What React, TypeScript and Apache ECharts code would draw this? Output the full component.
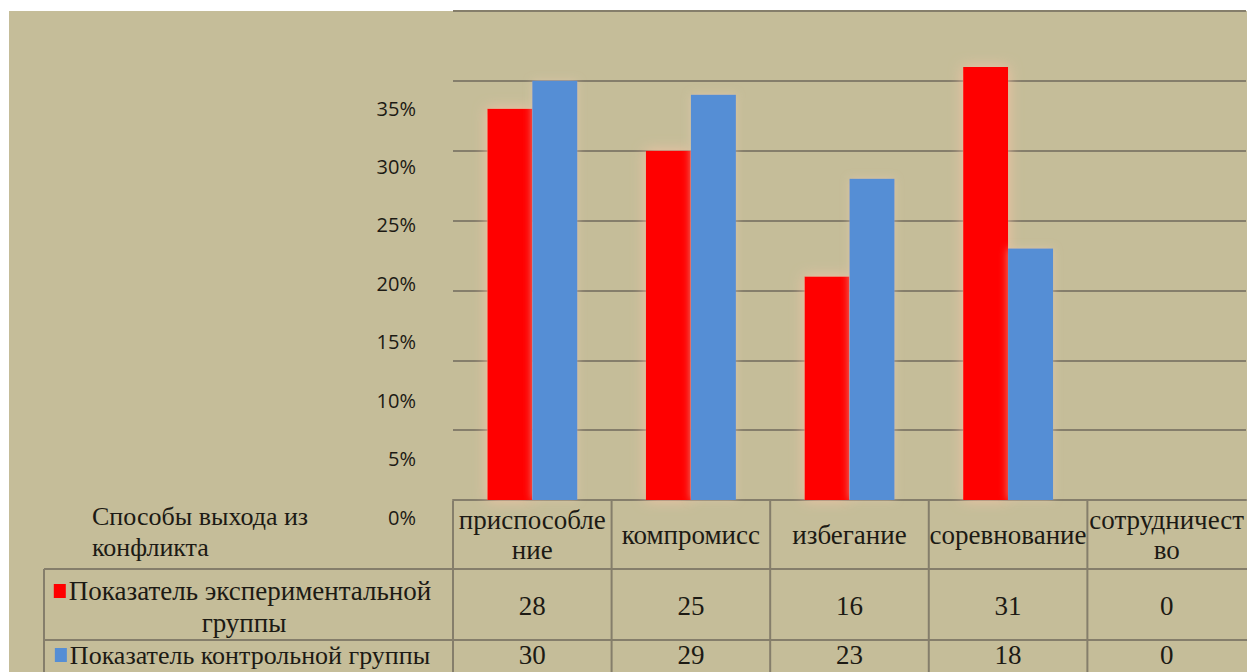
import React, { useEffect, useRef } from "react";
import * as echarts from "echarts";

const categories = ["приспособле\nние", "компромисс", "избегание", "соревнование", "сотрудничест\nво"];
const expValues = [28, 25, 16, 31, 0];
const ctrlValues = [30, 29, 23, 18, 0];
const seriesNames = ["Показатель экспериментальной\nгруппы", "Показатель контрольной группы"];
const seriesColors = ["#ff0000", "#558ed5"];
const headerTitle = "Способы выхода из\nконфликта";
const yMin = 0;
const yMax = 35;
const yStep = 5;

const BG = "#c5bd99";
const LINE = "#857e6b";
const TXT = "#1c1a14";
const SERIF = "'Liberation Serif', 'Times New Roman', serif";
const SANS = "'Open Sans', 'Noto Sans', sans-serif";

export default function App() {
  const ref = useRef<HTMLDivElement>(null);
  useEffect(() => {
    const chart = echarts.init(ref.current!, null, { renderer: "svg" });
    const option: any = {
      animation: false,
      backgroundColor: "#ffffff",
      grid: [
        { left: 453, right: 0, top: 11, bottom: 172, containLabel: false },
        { left: 420, width: 10, top: 108, height: 409, containLabel: false },
      ],
      xAxis: [
        {
          type: "category",
          gridIndex: 0,
          data: categories,
          axisLine: { show: true, lineStyle: { color: LINE, width: 2 } },
          axisTick: { show: false },
          axisLabel: {
            interval: 0,
            margin: 35,
            verticalAlign: "middle",
            lineHeight: 30,
            color: TXT,
            fontFamily: SERIF,
            fontSize: 27,
          },
        },
        { type: "category", gridIndex: 1, data: ["a"], show: false },
      ],
      yAxis: [
        {
          type: "value",
          gridIndex: 0,
          min: yMin,
          max: yMax,
          interval: yStep,
          axisLabel: { show: false },
          axisLine: { show: false },
          axisTick: { show: false },
          splitLine: { show: true, lineStyle: { color: LINE, width: 2 } },
        },
        {
          type: "value",
          gridIndex: 1,
          min: yMin,
          max: yMax,
          interval: yStep,
          axisLine: { show: false },
          axisTick: { show: false },
          splitLine: { show: false },
          axisLabel: {
            formatter: "{value}%",
            margin: 4,
            color: TXT,
            fontFamily: SANS,
            fontSize: 20,
          },
        },
      ],
      series: [
        {
          name: seriesNames[0],
          type: "bar",
          xAxisIndex: 0,
          yAxisIndex: 0,
          data: expValues,
          barWidth: 45,
          barGap: "0%",
          itemStyle: {
            color: seriesColors[0],
            shadowBlur: 14,
            shadowColor: "rgba(245,195,165,0.95)",
          },
        },
        {
          name: seriesNames[1],
          type: "bar",
          xAxisIndex: 0,
          yAxisIndex: 0,
          data: ctrlValues,
          barWidth: 45,
          barGap: "0%",
          itemStyle: {
            color: seriesColors[1],
            shadowBlur: 8,
            shadowColor: "rgba(225,200,170,0.7)",
          },
        },
      ],
    };
    chart.setOption(option);

    const cx = categories.map((_, i) => chart.convertToPixel({ xAxisIndex: 0 }, i) as number);
    const half = (cx[1] - cx[0]) / 2;
    const rightX = 1247;
    const rowTops = [501, 569, 640];
    const tableBottom = 672;
    const legendLeft = 44;
    const legendCenter = (legendLeft + (cx[0] - half)) / 2;
    const rowCenters = [606, 655];
    const legendFont = [27, 26];
    const rowValues = [expValues, ctrlValues];

    const lineStyle = { stroke: LINE, lineWidth: 2 };
    const g: any[] = [];
    g.push({ type: "rect", z: -100, silent: true, shape: { x: 9, y: 11, width: 1247 - 9, height: 672 - 11 }, style: { fill: BG } });
    g.push({ type: "line", shape: { x1: legendLeft, y1: rowTops[1], x2: rightX, y2: rowTops[1] }, style: lineStyle });
    g.push({ type: "line", shape: { x1: legendLeft, y1: rowTops[2], x2: rightX, y2: rowTops[2] }, style: lineStyle });
    g.push({ type: "line", shape: { x1: legendLeft, y1: rowTops[1], x2: legendLeft, y2: tableBottom }, style: lineStyle });
    for (let i = 0; i < categories.length; i++) {
      const bx = cx[i] - half;
      g.push({ type: "line", shape: { x1: bx, y1: rowTops[0], x2: bx, y2: tableBottom }, style: lineStyle });
    }
    g.push({
      type: "text",
      x: 92,
      y: 501,
      style: { text: headerTitle, fill: TXT, font: `26px ${SERIF}`, lineHeight: 31, verticalAlign: "top", align: "left" },
    });
    seriesNames.forEach((name, si) => {
      const lines = name.split("\n");
      const txt = `{m| }{t|${lines[0]}}` + lines.slice(1).map((l) => `\n{t|${l}}`).join("");
      g.push({
        type: "text",
        x: legendCenter - 6,
        y: rowCenters[si] + (si === 0 ? 1 : 0),
        style: {
          text: txt,
          align: "center",
          verticalAlign: "middle",
          fill: TXT,
          rich: {
            m: { width: 12, height: 14, backgroundColor: seriesColors[si], fontSize: 14 },
            t: { fontFamily: SERIF, fontSize: legendFont[si], lineHeight: 32, fill: TXT, padding: [0, 0, 0, 3] },
          },
        },
      });
      rowValues[si].forEach((v, i) => {
        g.push({
          type: "text",
          x: cx[i],
          y: rowCenters[si],
          style: { text: String(v), align: "center", verticalAlign: "middle", fill: TXT, font: `27px ${SERIF}` },
        });
      });
    });
    chart.setOption({ graphic: g });
    return () => chart.dispose();
  }, []);
  return <div ref={ref} style={{ position: "fixed", left: 0, top: 0, width: 1247, height: 672 }} />;
}
